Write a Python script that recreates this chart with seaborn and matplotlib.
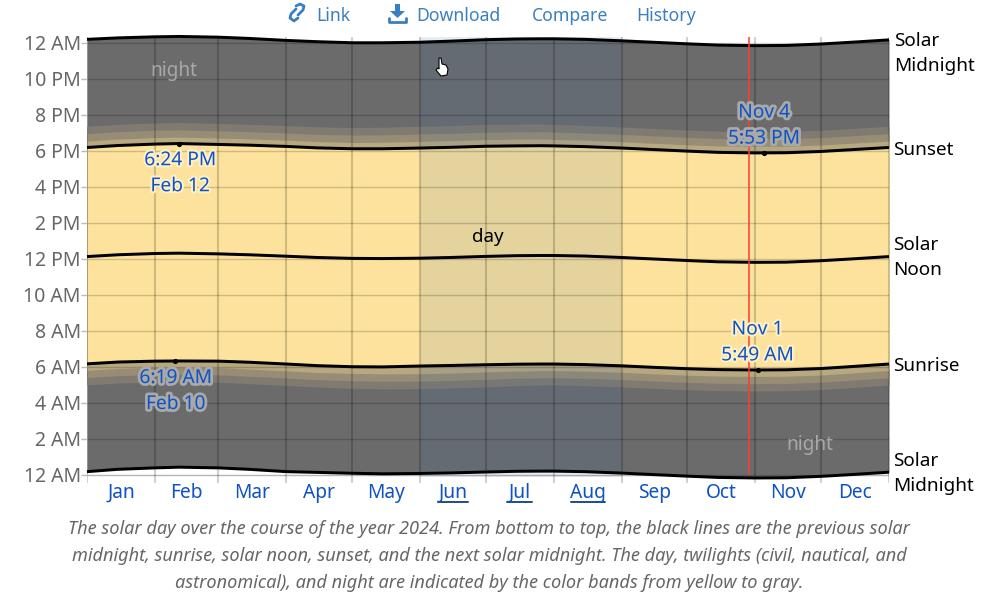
import seaborn as sns
import matplotlib.pyplot as plt
import matplotlib.patheffects as pe
from matplotlib.lines import Line2D
from matplotlib.patches import Polygon

# day of year where each row of values was read
days = [0, 14, 31, 42, 60, 74, 91, 105, 121, 135, 152, 166, 182, 196, 207, 213, 227, 244, 258, 274, 288, 305, 319, 335, 349, 366]

midnight_prev = [0.17, 0.30, 0.38, 0.42, 0.38, 0.30, 0.17, 0.13, 0.08, 0.05, 0.07, 0.10, 0.15, 0.19, 0.20, 0.20, 0.17, 0.09, 0.01, -0.08, -0.15, -0.18, -0.17, -0.09, 0.01, 0.14]
dawn_astro = [4.99, 5.09, 5.15, 5.16, 5.14, 5.06, 4.96, 4.87, 4.80, 4.77, 4.78, 4.82, 4.88, 4.95, 4.98, 4.98, 4.95, 4.88, 4.80, 4.72, 4.67, 4.65, 4.66, 4.73, 4.84, 4.98]
dawn_naut = [5.40, 5.50, 5.56, 5.57, 5.55, 5.47, 5.37, 5.28, 5.22, 5.19, 5.20, 5.24, 5.30, 5.36, 5.38, 5.39, 5.36, 5.29, 5.21, 5.13, 5.08, 5.06, 5.07, 5.14, 5.25, 5.39]
dawn_civil = [5.80, 5.90, 5.96, 5.97, 5.95, 5.87, 5.77, 5.68, 5.63, 5.60, 5.61, 5.65, 5.71, 5.76, 5.78, 5.78, 5.76, 5.69, 5.61, 5.53, 5.48, 5.46, 5.47, 5.54, 5.65, 5.79]
sunrise = [6.16, 6.26, 6.31, 6.32, 6.31, 6.25, 6.15, 6.06, 6.00, 5.99, 6.04, 6.07, 6.11, 6.14, 6.15, 6.15, 6.12, 6.05, 5.97, 5.89, 5.84, 5.82, 5.83, 5.90, 6.01, 6.15]
noon = [12.12, 12.22, 12.29, 12.31, 12.27, 12.22, 12.14, 12.07, 12.02, 12.01, 12.03, 12.07, 12.13, 12.17, 12.18, 12.18, 12.15, 12.07, 11.99, 11.90, 11.83, 11.80, 11.81, 11.89, 11.99, 12.12]
sunset = [18.18, 18.29, 18.37, 18.40, 18.35, 18.31, 18.24, 18.16, 18.11, 18.11, 18.15, 18.19, 18.25, 18.27, 18.28, 18.27, 18.23, 18.15, 18.07, 17.98, 17.91, 17.88, 17.89, 17.96, 18.06, 18.18]
dusk_civil = [18.54, 18.65, 18.73, 18.76, 18.71, 18.66, 18.59, 18.51, 18.46, 18.47, 18.52, 18.56, 18.62, 18.64, 18.65, 18.63, 18.59, 18.50, 18.42, 18.33, 18.27, 18.24, 18.25, 18.32, 18.42, 18.54]
dusk_naut = [18.95, 19.06, 19.14, 19.16, 19.11, 19.06, 18.99, 18.91, 18.87, 18.88, 18.93, 18.97, 19.03, 19.05, 19.06, 19.04, 18.99, 18.91, 18.83, 18.74, 18.68, 18.65, 18.66, 18.73, 18.83, 18.95]
dusk_astro = [19.36, 19.47, 19.54, 19.57, 19.52, 19.47, 19.40, 19.33, 19.29, 19.31, 19.36, 19.40, 19.46, 19.48, 19.49, 19.46, 19.41, 19.32, 19.24, 19.15, 19.09, 19.06, 19.07, 19.14, 19.24, 19.36]
midnight_next = [24.19, 24.27, 24.33, 24.35, 24.31, 24.24, 24.13, 24.06, 24.00, 24.00, 24.03, 24.09, 24.17, 24.21, 24.22, 24.22, 24.19, 24.11, 24.03, 23.94, 23.87, 23.84, 23.85, 23.93, 24.03, 24.16]

month_starts = [0, 31, 60, 91, 121, 152, 182, 213, 244, 274, 305, 335, 366]
month_mids = [15.5, 45.5, 75.5, 106, 136.5, 167, 197.5, 228.5, 259, 289.5, 320, 350.5]
month_names = ['Jan', 'Feb', 'Mar', 'Apr', 'May', 'Jun', 'Jul', 'Aug', 'Sep', 'Oct', 'Nov', 'Dec']
hour_ticks = [0, 2, 4, 6, 8, 10, 12, 14, 16, 18, 20, 22, 24]
hour_labels = ['12 AM', '2 AM', '4 AM', '6 AM', '8 AM', '10 AM', '12 PM', '2 PM', '4 PM', '6 PM', '8 PM', '10 PM', '12 AM']

# extreme points marked on the sunrise and sunset lines
extreme_days = [42, 309, 40, 306]
extreme_hours = [18.40, 17.88, 6.32, 5.82]
today = 302

W, H = 1005, 606
FONT = 'Noto Sans'
BLUE = '#0f52c4'
LINK = '#3a7fc1'


def fx(x):
    return x / W


def fy(y):
    return 1 - y / H


def px_text(x, y, s, **kw):
    kw.setdefault('va', 'center')
    fig.text(fx(x), fy(y), s, **kw)


def px_line(xs, ys, **kw):
    fig.add_artist(Line2D([fx(x) for x in xs], [fy(y) for y in ys], transform=fig.transFigure, **kw))


def px_poly(pts, **kw):
    fig.add_artist(Polygon([(fx(x), fy(y)) for x, y in pts], closed=True, transform=fig.transFigure, **kw))


sns.set_theme(style='white')
plt.rcParams['font.family'] = [FONT, 'DejaVu Sans']

fig = plt.figure(figsize=(W / 100, H / 100), dpi=100)
ax = fig.add_axes([fx(87), fy(483), fx(889) - fx(87), fy(37) - fy(483)])

# colour bands, nested from night in to day so no seams show between them
bands = [
    (midnight_prev, midnight_next, '#6b6b6b'),
    (dawn_astro, dusk_astro, '#807a70'),
    (dawn_naut, dusk_naut, '#978c75'),
    (dawn_civil, dusk_civil, '#b8a87f'),
    (sunrise, sunset, '#fce29c'),
]
for low, high, c in bands:
    ax.fill_between(days, low, high, color=c, lw=0, zorder=1)

# northern summer shading
ax.fill_between([month_starts[5], month_starts[8]], [-0.1, -0.1], [24.32, 24.32], color='#3a6ea5', alpha=0.12, lw=0, zorder=1.5, clip_on=False)

for series in [midnight_prev, sunrise, noon, sunset, midnight_next]:
    sns.lineplot(x=days, y=series, ax=ax, color='black', linewidth=2.15, errorbar=None, zorder=3)
for l in ax.get_lines():
    l.set_clip_on(False)
    l.set_solid_capstyle('butt')

sns.scatterplot(x=extreme_days, y=extreme_hours, ax=ax, color='black', s=14, linewidth=0, zorder=4)
ax.vlines(today, 0, 24.3, color='#ff3b30', linewidth=1.1, zorder=3.5)

ax.set_xlim(0, 366)
ax.set_ylim(-0.46, 24.32)
for s in ax.spines.values():
    s.set_visible(False)

ax.set_yticks(hour_ticks)
ax.set_yticklabels(hour_labels, fontsize=14, color='#666666')
ax.set_xticks(month_starts)
ax.set_xticklabels([])
ax.set_xticks(month_mids, minor=True)
ax.set_xticklabels(month_names, minor=True, fontsize=13.8, color=BLUE)
ax.tick_params(axis='y', which='major', left=True, length=4, width=1, color='#bbbbbb', pad=0.5)
ax.tick_params(axis='x', which='major', bottom=False)
ax.tick_params(axis='x', which='minor', bottom=False, pad=-4)
ax.grid(True, axis='y', color='black', alpha=0.18, linewidth=1)
ax.grid(True, axis='x', color='black', alpha=0.18, linewidth=1.5)
ax.set_axisbelow(False)
ax.axhline(0, color='#dddddd', linewidth=1, zorder=0.5)

# underlined links for the summer months
for a, b in [(160.2, 173.9), (191.7, 203), (220.9, 236.4)]:
    ax.plot([a, b], [-1.52, -1.52], color='#1d4f7c', linewidth=1.4, clip_on=False)

light_halo = [pe.withStroke(linewidth=3, foreground='#fdf0c8')]
gray_halo = [pe.withStroke(linewidth=4, foreground='#a9a9a9')]
note = dict(ha='center', va='center', fontsize=13.8, color=BLUE, linespacing=1.4, zorder=6)
ax.text(42.5, 16.75, '6:24 PM\nFeb 12', path_effects=light_halo, **note)
ax.text(40.5, 4.65, '6:19 AM\nFeb 10', path_effects=gray_halo, **note)
ax.text(309, 19.4, 'Nov 4\n5:53 PM', path_effects=gray_halo, **note)
ax.text(306, 7.35, 'Nov 1\n5:49 AM', path_effects=light_halo, **note)

ax.text(183, 13.2, 'day', ha='center', va='center', fontsize=13.5, color='black', zorder=6)
ax.text(39.5, 22.45, 'night', ha='center', va='center', fontsize=13.7, color='#a8a8a8', zorder=6)
ax.text(330, 1.65, 'night', ha='center', va='center', fontsize=13.7, color='#a8a8a8', zorder=6)

# series names to the right of the plot
side = dict(ha='left', fontsize=13.6, color='black')
px_text(894, 41, 'Solar', **side)
px_text(894, 66, 'Midnight', **side)
px_text(893, 150, 'Sunset', **side)
px_text(893, 245, 'Solar', **side)
px_text(893, 270, 'Noon', **side)
px_text(893, 366, 'Sunrise', **side)
px_text(893, 461, 'Solar', **side)
px_text(893, 486, 'Midnight', **side)

# toolbar above the chart
top = dict(ha='left', fontsize=12.7, color=LINK)
px_text(316, 16, 'Link', **top)
px_text(416, 16, 'Download', **top)
px_text(532, 16, 'Compare', **top)
px_text(636, 16, 'History', **top)
px_line([296, 291, 290, 294, 298], [9, 14, 18, 21, 18], color=LINK, linewidth=2, solid_capstyle='round')
px_line([298, 303, 304, 300, 296], [15, 10, 6, 4, 6], color=LINK, linewidth=2, solid_capstyle='round')
px_poly([(395, 4), (400, 4), (400, 11), (405, 11), (397.5, 18), (390, 11), (395, 11)], color=LINK, lw=0)
px_line([389, 389, 406, 406], [18, 21.5, 21.5, 18], color=LINK, linewidth=2)

# mouse pointer left in the screenshot
px_poly([(439, 58), (441, 58), (442, 64), (446, 65), (448, 69), (447, 75), (441, 76), (436, 70), (438, 68), (439, 69)],
        facecolor='white', edgecolor='black', linewidth=0.8)

caption = [
    'The solar day over the course of the year 2024. From bottom to top, the black lines are the previous solar',
    'midnight, sunrise, solar noon, sunset, and the next solar midnight. The day, twilights (civil, nautical, and',
    'astronomical), and night are indicated by the color bands from yellow to gray.',
]
for y, s in zip([529, 556, 583], caption):
    px_text(489, y, s, ha='center', fontsize=13.07, style='italic', color='#666666')

fig.savefig('out.png', dpi=100, facecolor='white')
